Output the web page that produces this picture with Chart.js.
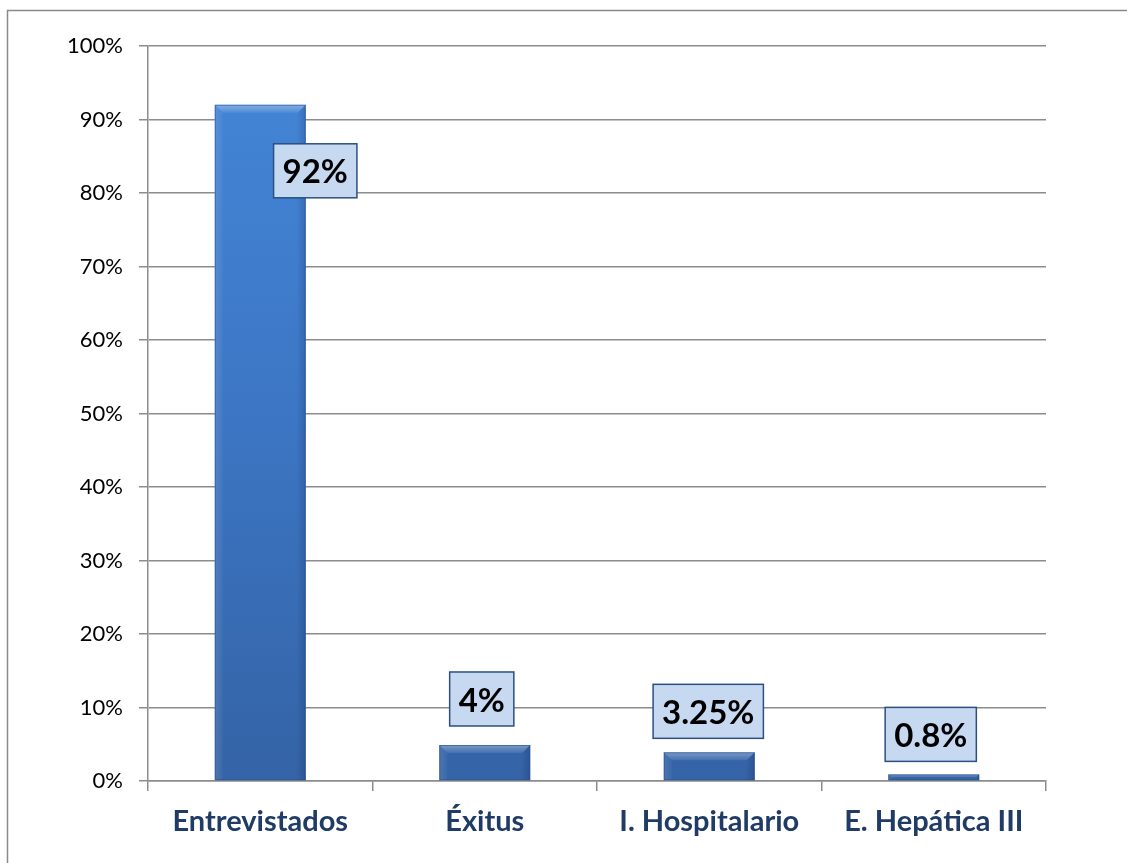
<!DOCTYPE html>
<html>
<head>
<meta charset="utf-8">
<script src="https://cdn.jsdelivr.net/npm/chart.js@4"></script>
<style>
html,body{margin:0;padding:0;background:#fff;}
#wrap{width:1127px;height:863px;position:relative;}
</style>
</head>
<body>
<div id="wrap"><canvas id="c" width="1127" height="863"></canvas></div>
<script>
const categories = ['Entrevistados', 'Éxitus', 'I. Hospitalario', 'E. Hepática III'];
const values = [92, 4.9, 3.9, 0.9];
const valueLabels = ['92%', '4%', '3.25%', '0.8%'];
const yTicks = [0, 10, 20, 30, 40, 50, 60, 70, 80, 90, 100];

const labelOffsets = [[55, 66], [-3, -46], [-1, -41], [-3, -40]];

const frame = {
  id: 'frame',
  beforeDraw(chart) {
    const ctx = chart.ctx;
    ctx.save();
    ctx.fillStyle = '#fff';
    ctx.fillRect(0, 0, chart.width, chart.height);
    ctx.strokeStyle = '#8a8a8a';
    ctx.lineWidth = 1.5;
    ctx.strokeRect(7.5, 10.5, 2000, 2000);
    ctx.restore();
  }
};

const bevel = {
  id: 'bevel',
  afterDatasetsDraw(chart) {
    const ctx = chart.ctx;
    const meta = chart.getDatasetMeta(0);
    ctx.save();
    meta.data.forEach((bar) => {
      const w = bar.width;
      const l = bar.x - w / 2, r = bar.x + w / 2, t = bar.y, b = bar.base;
      const h = b - t;
      const d = Math.min(8, h / 2);
      // top bevel
      let g = ctx.createLinearGradient(0, t, 0, t + d);
      g.addColorStop(0, 'rgba(255,255,255,0.35)');
      g.addColorStop(1, 'rgba(255,255,255,0.08)');
      ctx.fillStyle = g;
      ctx.beginPath();
      ctx.moveTo(l, t); ctx.lineTo(r, t); ctx.lineTo(r - d, t + d); ctx.lineTo(l + d, t + d); ctx.closePath();
      ctx.fill();
      // left bevel
      g = ctx.createLinearGradient(l, 0, l + d, 0);
      g.addColorStop(0, 'rgba(255,255,255,0.12)');
      g.addColorStop(1, 'rgba(255,255,255,0.03)');
      ctx.fillStyle = g;
      ctx.beginPath();
      ctx.moveTo(l, t); ctx.lineTo(l + d, t + d); ctx.lineTo(l + d, b); ctx.lineTo(l, b); ctx.closePath();
      ctx.fill();
      // right bevel
      g = ctx.createLinearGradient(r - d, 0, r, 0);
      g.addColorStop(0, 'rgba(0,0,40,0.02)');
      g.addColorStop(1, 'rgba(0,0,40,0.16)');
      ctx.fillStyle = g;
      ctx.beginPath();
      ctx.moveTo(r, t); ctx.lineTo(r - d, t + d); ctx.lineTo(r - d, b); ctx.lineTo(r, b); ctx.closePath();
      ctx.fill();
      ctx.strokeStyle = 'rgba(40,80,140,0.6)';
      ctx.lineWidth = 1;
      ctx.strokeRect(l + 0.5, t + 0.5, w - 1, h - 1);
    });
    ctx.restore();
  }
};

const boxes = {
  id: 'boxes',
  afterDraw(chart) {
    const ctx = chart.ctx;
    const meta = chart.getDatasetMeta(0);
    ctx.save();
    ctx.font = 'bold 33px Lato';
    ctx.textAlign = 'center';
    ctx.textBaseline = 'middle';
    meta.data.forEach((bar, i) => {
      const txt = valueLabels[i];
      const tw = ctx.measureText(txt).width;
      const bw = tw + 18, bh = 54;
      const cx = bar.x + labelOffsets[i][0];
      const cy = bar.y + labelOffsets[i][1];
      ctx.fillStyle = '#c6d9f1';
      ctx.fillRect(cx - bw / 2, cy - bh / 2, bw, bh);
      ctx.strokeStyle = '#2b4f80';
      ctx.lineWidth = 1.5;
      ctx.strokeRect(cx - bw / 2, cy - bh / 2, bw, bh);
      ctx.fillStyle = '#000';
      ctx.fillText(txt, cx, cy + 2);
    });
    ctx.restore();
  }
};

new Chart(document.getElementById('c'), {
  type: 'bar',
  data: {
    labels: categories,
    datasets: [{
      data: values,
      backgroundColor(ctx) {
        const area = ctx.chart.chartArea;
        if (!area) return '#3b74c2';
        const g = ctx.chart.ctx.createLinearGradient(0, area.top, 0, area.bottom);
        g.addColorStop(0, '#4486d8');
        g.addColorStop(0.5, '#3c76c4');
        g.addColorStop(1, '#3463a6');
        return g;
      },
      borderWidth: 0,
      categoryPercentage: 1,
      barPercentage: 0.405
    }]
  },
  options: {
    responsive: false,
    animation: false,
    devicePixelRatio: 1,
    layout: { padding: { top: 46, right: 81, bottom: 0, left: 0 } },
    plugins: { legend: { display: false }, tooltip: { enabled: false } },
    scales: {
      y: {
        min: 0, max: 100,
        afterBuildTicks(s) { s.ticks = yTicks.map(v => ({ value: v })); },
        afterFit(s) { s.width = 148; },
        ticks: {
          callback: v => v + '%',
          font: { family: 'Lato', size: 22 },
          color: '#000',
          padding: 16
        },
        grid: { color: '#8c8c8c', lineWidth: 1.5, tickLength: 9 },
        border: { color: '#8c8c8c', width: 1.5 }
      },
      x: {
        afterFit(s) { s.height = 82; },
        ticks: {
          font: { family: 'Lato', size: 29, weight: 'bold' },
          color: '#1f3b66',
          padding: 13
        },
        grid: { drawOnChartArea: false, color: '#8c8c8c', lineWidth: 1.5, tickLength: 10, offset: true },
        border: { color: '#8c8c8c', width: 1.5 }
      }
    }
  },
  plugins: [frame, bevel, boxes]
});
</script>
</body>
</html>
